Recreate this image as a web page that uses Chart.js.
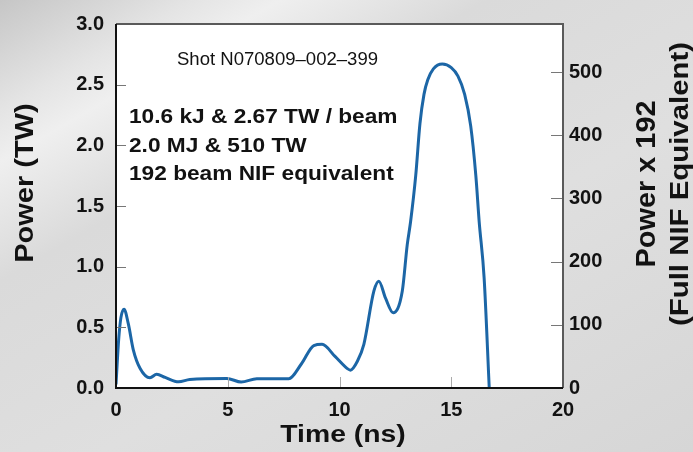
<!DOCTYPE html>
<html>
<head>
<meta charset="utf-8">
<script src="https://cdn.jsdelivr.net/npm/chart.js@4.4.1/dist/chart.umd.min.js"></script>
<style>
  html, body { margin: 0; padding: 0; }
  body {
    width: 693px; height: 452px; overflow: hidden;
    background: linear-gradient(150deg, #c6c6c6 0%, #e4e4e4 13%, #efefef 19%, #dadada 33%, #dfdfdf 60%, #d6d6d6 100%);
  }
  canvas { display: block; }
</style>
</head>
<body>
<canvas id="grafico" width="693" height="452"></canvas>
<script>
// pulse shape, power per beam
const timeNs = [0, 0.12, 0.22, 0.36, 0.55, 0.78, 1.08, 1.52, 1.82, 2.2, 2.8, 3.3, 4.96, 5.6, 6.3, 7.73, 8.3, 8.85, 9.22, 9.8, 10.35, 10.49, 10.8, 11.09, 11.54, 11.76, 12.06, 12.4, 12.81, 13.03, 13.18, 13.41, 13.6, 13.78, 13.95, 14.2, 14.6, 15.0, 15.3, 15.6, 15.87, 16.1, 16.25, 16.47, 16.7];
const powerTW = [0.03, 0.4, 0.58, 0.65, 0.53, 0.31, 0.16, 0.084, 0.114, 0.087, 0.051, 0.07, 0.079, 0.049, 0.076, 0.076, 0.2, 0.35, 0.36, 0.26, 0.16, 0.147, 0.22, 0.36, 0.80, 0.88, 0.74, 0.62, 0.80, 1.18, 1.37, 1.75, 2.18, 2.42, 2.54, 2.63, 2.67, 2.64, 2.57, 2.42, 2.16, 1.75, 1.37, 0.91, 0.0];

const BEAMS = 192;
const xTicks = [0, 5, 10, 15, 20];
const yTicks = [0, 0.5, 1.0, 1.5, 2.0, 2.5, 3.0];
const y2Ticks = [0, 100, 200, 300, 400, 500];

const shotLabel = 'Shot N070809\u2013002\u2013399';
const noteLines = ['10.6 kJ & 2.67 TW / beam', '2.0 MJ & 510 TW', '192 beam NIF equivalent'];

const FONT = '"Liberation Sans", Arial, sans-serif';
const INK = '#121212';

function texto(ctx, str, x, y, font, sx, rot, align) {
    ctx.save();
    ctx.translate(x, y);
    if (rot) ctx.rotate(rot);
    ctx.scale(sx, 1);
    ctx.font = font;
    ctx.fillStyle = INK;
    ctx.textAlign = align || 'left';
    ctx.textBaseline = 'alphabetic';
    ctx.fillText(str, 0, 0);
    ctx.restore();
}

// white plot area, frame, inward ticks, titles and notes
const marco = {
    id: 'marco',
    beforeDatasetsDraw(chart) {
        const { ctx, chartArea: a } = chart;
        ctx.save();
        ctx.fillStyle = '#ffffff';
        ctx.fillRect(a.left, a.top, a.right - a.left, a.bottom - a.top);
        ctx.restore();
    },
    afterDatasetsDraw(chart) {
        const { ctx, chartArea: a, scales } = chart;
        ctx.save();
        ctx.lineWidth = 1;
        ctx.strokeStyle = '#777';
        scales.y.ticks.forEach(t => {
            const py = Math.round(scales.y.getPixelForValue(t.value)) + 0.5;
            ctx.beginPath(); ctx.moveTo(a.left, py); ctx.lineTo(a.left + 10, py); ctx.stroke();
        });
        scales.y2.ticks.forEach(t => {
            const py = Math.round(scales.y2.getPixelForValue(t.value)) + 0.5;
            ctx.beginPath(); ctx.moveTo(a.right - 12, py); ctx.lineTo(a.right, py); ctx.stroke();
        });
        ctx.strokeStyle = '#aaa';
        scales.x.ticks.forEach(t => {
            const px = Math.round(scales.x.getPixelForValue(t.value)) + 0.5;
            ctx.beginPath(); ctx.moveTo(px, a.bottom); ctx.lineTo(px, a.bottom - 11); ctx.stroke();
        });

        ctx.lineWidth = 2;
        ctx.strokeStyle = '#5a5a5a';
        ctx.beginPath();
        ctx.moveTo(a.left, a.top); ctx.lineTo(a.right, a.top); ctx.lineTo(a.right, a.bottom);
        ctx.stroke();
        ctx.strokeStyle = '#111';
        ctx.beginPath();
        ctx.moveTo(a.left, a.top); ctx.lineTo(a.left, a.bottom); ctx.lineTo(a.right, a.bottom);
        ctx.stroke();
        ctx.restore();

        texto(ctx, shotLabel, 177, 65, '18px ' + FONT, 1.03);
        noteLines.forEach((s, i) => {
            texto(ctx, s, 129, 123 + i * 28.5, 'bold 21px ' + FONT, 1.08);
        });
    },
    afterDraw(chart) {
        const { ctx } = chart;
        const up = -Math.PI / 2;
        texto(ctx, 'Power (TW)', 33, 183, 'bold 25px ' + FONT, 1.16, up, 'center');
        texto(ctx, 'Time (ns)', 343, 442, 'bold 24px ' + FONT, 1.18, 0, 'center');
        texto(ctx, 'Power x 192', 655, 184, 'bold 27px ' + FONT, 1.07, up, 'center');
        texto(ctx, '(Full NIF Equivalent)', 688, 184, 'bold 26px ' + FONT, 1.13, up, 'center');
    }
};

const tickFont = { family: FONT, size: 20, weight: 'bold' };

new Chart(document.getElementById('grafico'), {
    type: 'line',
    data: {
        datasets: [{
            data: timeNs.map((t, i) => ({ x: t, y: powerTW[i] })),
            borderColor: '#1c66a6',
            borderWidth: 3,
            pointRadius: 0,
            cubicInterpolationMode: 'monotone',
            fill: false,
            yAxisID: 'y'
        }]
    },
    options: {
        responsive: false,
        animation: false,
        layout: { padding: { top: 20, left: 0, right: 0, bottom: 0 } },
        plugins: { legend: { display: false }, tooltip: { enabled: false } },
        scales: {
            x: {
                type: 'linear',
                min: 0, max: 20,
                grid: { display: false, drawTicks: false },
                border: { display: false },
                afterBuildTicks: s => { s.ticks = xTicks.map(v => ({ value: v })); },
                afterFit: s => { s.height = 64; },
                ticks: { font: tickFont, color: INK, padding: 10, maxRotation: 0 }
            },
            y: {
                position: 'left',
                min: 0, max: 3,
                grid: { display: false, drawTicks: false },
                border: { display: false },
                afterBuildTicks: s => { s.ticks = yTicks.map(v => ({ value: v })); },
                afterFit: s => { s.width = 116; },
                ticks: { font: tickFont, color: INK, padding: 12, callback: v => v.toFixed(1) }
            },
            y2: {
                position: 'right',
                min: 0, max: 3 * BEAMS,
                grid: { display: false, drawTicks: false },
                border: { display: false },
                afterBuildTicks: s => { s.ticks = y2Ticks.map(v => ({ value: v })); },
                afterFit: s => { s.width = 130; },
                ticks: { font: tickFont, color: INK, padding: 6 }
            }
        }
    },
    plugins: [marco]
});
</script>
</body>
</html>
